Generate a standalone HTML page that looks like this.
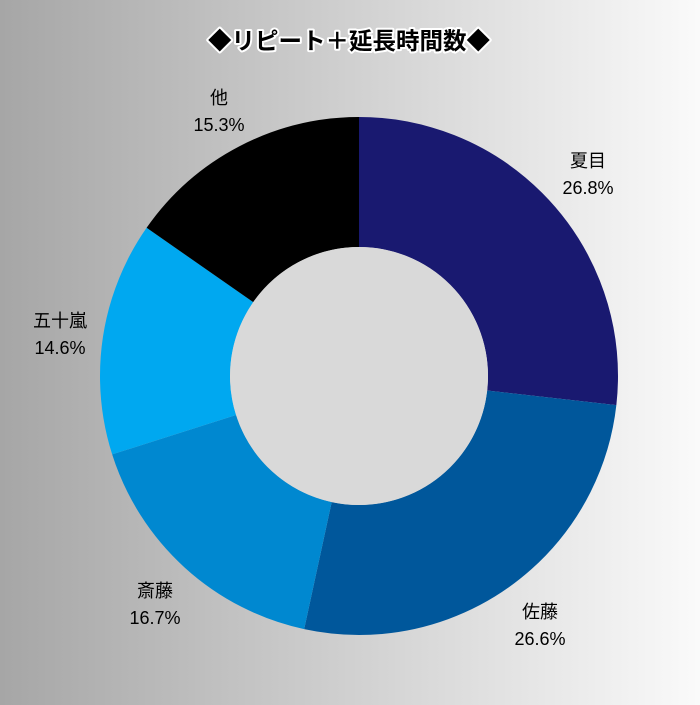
<!DOCTYPE html>
<html><head><meta charset="utf-8"><style>
body{margin:0;width:700px;height:700px;background:linear-gradient(to right,#a6a6a6,#fafafa);overflow:hidden}
text{font-family:"Liberation Sans","Noto Sans CJK JP",sans-serif}
</style></head><body>
<svg width="700" height="700" xmlns="http://www.w3.org/2000/svg">
<text x="349" y="49" text-anchor="middle" font-size="23.5" font-weight="bold" fill="#000" stroke="#fff" stroke-width="4" paint-order="stroke" stroke-linejoin="round">◆リピート＋延長時間数◆</text>
<g transform="rotate(-90 359 376)" fill="none" stroke-width="130">
<circle cx="359" cy="376" r="194" pathLength="100" stroke="#191970" stroke-dasharray="26.8 100" stroke-dashoffset="0"/>
<circle cx="359" cy="376" r="194" pathLength="100" stroke="#00579b" stroke-dasharray="26.6 100" stroke-dashoffset="-26.8"/>
<circle cx="359" cy="376" r="194" pathLength="100" stroke="#0088d0" stroke-dasharray="16.7 100" stroke-dashoffset="-53.4"/>
<circle cx="359" cy="376" r="194" pathLength="100" stroke="#00a8f0" stroke-dasharray="14.6 100" stroke-dashoffset="-70.1"/>
<circle cx="359" cy="376" r="194" pathLength="100" stroke="#000" stroke-dasharray="15.3 100" stroke-dashoffset="-84.7"/>
</g>
<circle cx="359" cy="376" r="129" fill="#d9d9d9"/>
<g font-size="18" text-anchor="middle" fill="#000">
<text x="588" y="167">夏目</text><text x="588" y="194">26.8%</text>
<text x="540" y="618">佐藤</text><text x="540" y="645">26.6%</text>
<text x="155" y="597">斎藤</text><text x="155" y="624">16.7%</text>
<text x="60" y="327">五十嵐</text><text x="60" y="354">14.6%</text>
<text x="219" y="104">他</text><text x="219" y="131">15.3%</text>
</g>
</svg>
</body></html>
